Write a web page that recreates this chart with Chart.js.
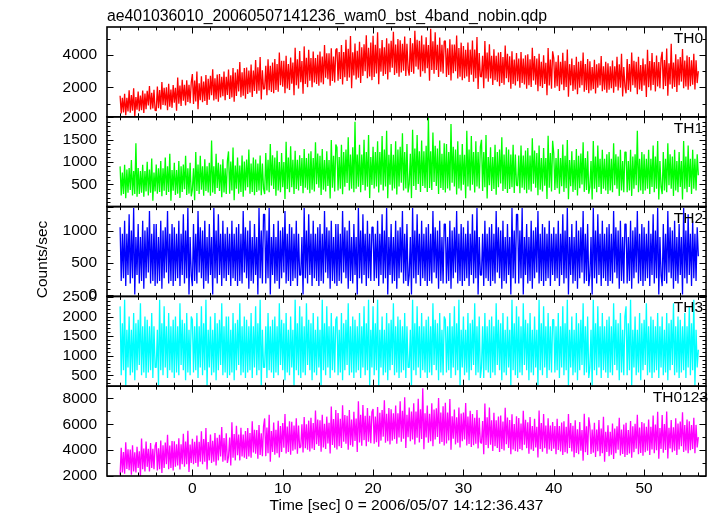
<!DOCTYPE html>
<html><head><meta charset="utf-8">
<script src="https://cdn.jsdelivr.net/npm/chart.js@4/dist/chart.umd.min.js"></script>
<style>html,body{margin:0;padding:0;background:#fff}#wrap{position:relative;width:717px;height:516px}canvas{display:block}</style>
</head><body><div id="wrap"><canvas id="c" width="717" height="516"></canvas></div>
<script>
const plotTitle = "ae401036010_20060507141236_wam0_bst_4band_nobin.qdp";
const xTitle = "Time [sec] 0 = 2006/05/07 14:12:36.437";
const yTitle = "Counts/sec";
const bandNames = ["TH0", "TH1", "TH2", "TH3", "TH0123"];
const bandColors = ["#ff0000", "#00ff00", "#0000ff", "#00ffff", "#ff00ff"];
const timeStart = -8, timeStep = 0.125;

const th0 = [
1490,410,1370,470,1610,290,1370,530,1830,450,1530,570,1950,210,1410,630,1750,550,1510,610,1810,430,1630,670,1790,890,2090,650,1670,710,1850,590,
580,2050,720,1840,650,2330,930,1980,890,2010,610,2220,820,1870,750,2150,1070,1980,580,2610,1000,2120,860,2470,1180,2160,900,2440,1110,2160,1040,2300,
2820,980,2420,1140,2980,660,2260,1220,2690,1090,2370,1170,2770,930,2530,1250,2720,1520,3120,1200,2560,1280,2800,1120,2820,1380,2660,1460,2980,1220,2660,1540,
3100,1300,2740,1390,3190,1120,2920,1480,3110,1760,3560,1400,2930,1490,3200,1310,3220,1600,3040,1690,3400,1420,3040,1780,3690,1620,3240,1800,3870,1260,3060,1890,
1930,3330,1530,3730,1830,3330,1730,3530,1640,3740,1840,3440,1740,4140,2140,3640,2040,3640,1640,3940,1940,3440,1840,3840,2230,3530,1530,4430,2130,3730,1930,4230,
2320,3620,1620,4520,2220,3820,2020,4320,2410,3810,2010,4210,2310,3810,2210,4010,2100,4200,2300,3900,2200,4600,2600,4100,2500,4100,2100,4400,2400,3900,2300,4300,
4390,2410,4170,2520,4610,2190,4170,2630,4930,2400,4380,2620,5150,1960,4160,2730,4690,2490,4250,2600,4800,2270,4470,2710,4650,3000,5200,2560,4430,2670,4760,2450,
5170,2640,4620,2860,5390,2200,4400,2970,4910,2710,4470,2820,5020,2490,4690,2930,4860,3210,5410,2770,4640,2880,4970,2660,4900,2920,4680,3030,5120,2700,4680,3140,
2730,5040,2950,4710,2840,5480,3280,4930,3100,4860,2660,5190,2990,4640,2880,5080,3180,4610,2410,5600,3070,4830,2850,5380,3080,4620,2640,5060,2970,4620,2860,4840,
4850,2650,4410,2760,4960,2430,4630,2870,4640,2990,5190,2550,4420,2660,4750,2440,4540,2560,4320,2670,4760,2340,4320,2780,4880,2350,4330,2570,5100,1910,4110,2680,
2650,3950,1950,4850,2550,4150,2350,4650,2550,3950,2150,4350,2450,3950,2350,4150,2070,4170,2270,3870,2170,4570,2570,4070,2320,3920,1920,4220,2220,3720,2120,4120,
2380,3780,1980,4180,2280,3780,2180,3980,1930,4030,2130,3730,2030,4430,2430,3930,2170,3770,1770,4070,2070,3570,1970,3970,2220,3520,1520,4420,2120,3720,1920,4220,
3780,1980,3580,2080,3980,1780,3580,2180,4130,1830,3630,2030,4330,1430,3430,2130,3780,1780,3380,1880,3880,1580,3580,1980,3640,2140,4140,1740,3440,1840,3740,1640,
3610,1810,3250,1900,3700,1630,3430,1990,3480,2130,3930,1770,3300,1860,3570,1680,3480,1860,3300,1950,3660,1680,3300,2040,3880,1810,3430,1990,4060,1450,3250,2080,
1640,3740,1840,3440,1740,4140,2140,3640,1980,3580,1580,3880,1880,3380,1780,3780,2120,3420,1420,4320,2020,3620,1820,4120,2160,3560,1760,3960,2060,3560,1960,3760,
4190,1890,3690,2090,4390,1490,3490,2190,4680,1930,3530,2030,4030,1730,3730,2130,3860,2360,4360,1960,3660,2060,3960,1860,3870,2070,3670,2170,4070,1870,3670,2270,
3000];

const th1 = [
900,250,760,280,935,190,830,310,865,370,1040,250,795,280,1420,220,865,280,795,310,935,220,795,340,1005,250,830,310,1075,130,760,340,
940,290,860,325,1020,230,860,355,1100,260,900,325,1180,130,820,355,980,260,820,290,1020,195,900,325,940,390,1140,260,860,290,980,230,
380,860,145,1220,350,940,280,1140,380,900,245,1060,350,900,315,980,245,1480,315,900,280,1180,415,980,350,940,210,1060,315,860,280,1020,
1235,290,1010,360,1325,145,920,400,1100,290,920,325,1145,220,1010,360,1055,435,1280,290,965,325,1100,255,1055,325,965,360,1145,255,965,400,
280,1200,360,1050,320,1400,470,1150,395,1100,245,1250,360,1000,320,1200,435,1000,170,1450,395,1100,320,1350,435,1050,280,1250,395,1050,360,1150,
460,1090,300,1290,420,1090,380,1190,300,1240,380,1090,340,1440,500,1190,420,1140,260,1290,380,1040,340,1240,460,1040,180,1490,420,1140,340,1390,
1330,360,1110,400,1385,275,1220,445,1275,530,1550,360,1165,400,1330,320,1900,400,1165,445,1385,320,1165,485,1495,360,1220,445,1605,190,1110,485,
1340,405,1220,450,1460,315,1220,490,1580,360,1280,450,1700,185,1160,490,1400,360,1160,405,1460,270,1280,450,1340,535,1640,360,1220,405,1400,315,
505,1180,190,1720,460,1300,370,1600,505,1240,325,1480,460,1240,415,1360,325,2000,415,1240,370,1660,550,1360,460,1300,280,1480,415,1180,370,1420,
315,1400,405,1220,360,1850,535,1340,450,1280,270,1460,405,1160,360,1400,490,1160,185,1700,450,1280,360,1580,490,1220,315,1460,450,1220,405,1340,
1495,350,1220,435,1605,180,1110,480,1330,350,1110,395,1385,265,1220,435,1275,520,1550,350,1165,395,1330,305,1275,395,1165,435,1385,305,1165,480,
465,1145,300,1365,425,1145,380,1255,300,1310,380,1145,340,1530,510,1255,425,1200,255,1365,380,1090,340,1310,465,1090,170,1585,425,1200,340,1475,
1190,370,1090,410,1290,290,1090,455,1390,330,1140,410,1490,165,1040,455,1240,330,1040,370,1290,250,1140,410,1190,495,1440,330,1090,370,1240,290,
440,1020,160,1470,400,1120,320,1370,440,1070,280,1270,400,1070,360,1170,280,1220,360,1070,320,1420,480,1170,400,1120,240,1270,360,1020,320,1220,
1220,320,1020,360,1270,240,1120,400,1170,480,1700,320,1070,360,1220,280,1170,360,1070,400,1270,280,1070,440,1370,320,1120,400,1470,160,1020,440,
280,1220,360,1070,320,1420,480,1170,400,1120,240,1270,360,1020,320,1220,440,1020,160,1470,400,1120,320,1370,440,1070,280,1270,400,1070,360,1170,
700];

const th2 = [
1050,220,950,260,1150,140,950,310,1250,180,1000,260,1350,10,900,310,1100,180,900,220,1150,100,1000,260,1050,350,1300,180,950,220,1100,140,
1100,180,900,220,1150,100,1000,260,1050,350,1300,180,950,220,1100,140,1050,220,950,260,1150,140,950,310,1250,180,1000,260,1350,10,900,310,
140,1100,220,950,180,1300,350,1050,260,1000,100,1150,220,900,180,1100,310,900,10,1350,260,1000,180,1250,310,950,140,1150,260,950,220,1050,
310,950,140,1150,260,950,220,1050,140,1100,220,950,180,1300,350,1050,260,1000,100,1150,220,900,180,1100,310,900,10,1350,260,1000,180,1250,
1250,180,1000,260,1350,10,900,310,1100,180,900,220,1150,100,1000,260,1050,350,1300,180,950,220,1100,140,1050,220,950,260,1150,140,950,310,
310,900,10,1350,260,1000,180,1250,310,950,140,1150,260,950,220,1050,140,1100,220,950,180,1300,350,1050,260,1000,100,1150,220,900,180,1100,
140,1100,220,950,180,1300,350,1050,260,1000,100,1150,220,900,180,1100,310,900,10,1350,260,1000,180,1250,310,950,140,1150,260,950,220,1050,
1050,220,950,260,1150,140,950,310,1250,180,1000,260,1350,10,900,310,1100,180,900,220,1150,100,1000,260,1050,350,1300,180,950,220,1100,140,
310,900,10,1350,260,1000,180,1250,310,950,140,1150,260,950,220,1050,140,1100,220,950,180,1300,350,1050,260,1000,100,1150,220,900,180,1100,
1100,180,900,220,1150,100,1000,260,1050,350,1300,180,950,220,1100,140,1050,220,950,260,1150,140,950,310,1250,180,1000,260,1350,10,900,310,
310,950,140,1150,260,950,220,1050,140,1100,220,950,180,1300,350,1050,260,1000,100,1150,220,900,180,1100,310,900,10,1350,260,1000,180,1250,
1250,180,1000,260,1350,10,900,310,1100,180,900,220,1150,100,1000,260,1050,350,1300,180,950,220,1100,140,1050,220,950,260,1150,140,950,310,
1050,220,950,260,1150,140,950,310,1250,180,1000,260,1350,10,900,310,1100,180,900,220,1150,100,1000,260,1050,350,1300,180,950,220,1100,140,
310,900,10,1350,260,1000,180,1250,310,950,140,1150,260,950,220,1050,140,1100,220,950,180,1300,350,1050,260,1000,100,1150,220,900,180,1100,
1100,180,900,220,1150,100,1000,260,1050,350,1300,180,950,220,1100,140,1050,220,950,260,1150,140,950,310,1250,180,1000,260,1350,10,900,310,
140,1100,220,950,180,1300,350,1050,260,1000,100,1150,220,900,180,1100,310,900,10,1350,260,1000,180,1250,310,950,140,1150,260,950,220,1050,
600];

const th3 = [
2260,500,1830,630,2430,240,1660,700,2000,500,1660,570,2090,370,1830,630,1920,760,2340,500,1750,570,2000,430,1920,570,1750,630,2090,430,1750,700,
700,1660,240,2430,630,1830,500,2260,700,1750,430,2090,630,1750,570,1920,430,2000,570,1750,500,2340,760,1920,630,1830,370,2090,570,1660,500,2000,
1920,570,1750,630,2090,430,1750,700,2260,500,1830,630,2430,240,1660,700,2000,500,1660,570,2090,370,1830,630,1920,760,2340,500,1750,570,2000,430,
2000,500,1660,570,2090,370,1830,630,1920,760,2340,500,1750,570,2000,430,1920,570,1750,630,2090,430,1750,700,2260,500,1830,630,2430,240,1660,700,
700,1750,430,2090,630,1750,570,1920,430,2000,570,1750,500,2340,760,1920,630,1830,370,2090,570,1660,500,2000,700,1660,240,2430,630,1830,500,2260,
430,2000,570,1750,500,2340,760,1920,630,1830,370,2090,570,1660,500,2000,700,1660,240,2430,630,1830,500,2260,700,1750,430,2090,630,1750,570,1920,
2000,500,1660,570,2090,370,1830,630,1920,760,2340,500,1750,570,2000,430,1920,570,1750,630,2090,430,1750,700,2260,500,1830,630,2430,240,1660,700,
2260,500,1830,630,2430,240,1660,700,2000,500,1660,570,2090,370,1830,630,1920,760,2340,500,1750,570,2000,430,1920,570,1750,630,2090,430,1750,700,
700,1660,240,2430,630,1830,500,2260,700,1750,430,2090,630,1750,570,1920,430,2000,570,1750,500,2340,760,1920,630,1830,370,2090,570,1660,500,2000,
1920,570,1750,630,2090,430,1750,700,2260,500,1830,630,2430,240,1660,700,2000,500,1660,570,2090,370,1830,630,1920,760,2340,500,1750,570,2000,430,
700,1750,430,2090,630,1750,570,1920,430,2000,570,1750,500,2340,760,1920,630,1830,370,2090,570,1660,500,2000,700,1660,240,2430,630,1830,500,2260,
430,2000,570,1750,500,2340,760,1920,630,1830,370,2090,570,1660,500,2000,700,1660,240,2430,630,1830,500,2260,700,1750,430,2090,630,1750,570,1920,
1920,570,1750,630,2090,430,1750,700,2260,500,1830,630,2430,240,1660,700,2000,500,1660,570,2090,370,1830,630,1920,760,2340,500,1750,570,2000,430,
700,1660,240,2430,630,1830,500,2260,700,1750,430,2090,630,1750,570,1920,430,2000,570,1750,500,2340,760,1920,630,1830,370,2090,570,1660,500,2000,
2260,500,1830,630,2430,240,1660,700,2000,500,1660,570,2090,370,1830,630,1920,760,2340,500,1750,570,2000,430,1920,570,1750,630,2090,430,1750,700,
2000,500,1660,570,2090,370,1830,630,1920,760,2340,500,1750,570,2000,430,1920,570,1750,630,2090,430,1750,700,2260,500,1830,630,2430,240,1660,700,
1150];

const th0123 = [
2080,4170,2260,3840,2170,4610,2530,4060,2440,4040,2080,4370,2350,3820,2260,4260,2610,3900,1980,4890,2520,4120,2340,4670,2700,4100,2340,4540,2610,4100,2520,4320,
4620,2420,4140,2520,4740,2220,4380,2620,4590,2910,5190,2510,4350,2610,4710,2410,4680,2700,4440,2800,4920,2500,4440,2900,5260,2700,4660,2900,5500,2300,4420,3000,
4880,2900,4640,3000,5120,2700,4640,3100,5460,2900,4860,3100,5700,2500,4620,3200,5200,3000,4720,3100,5320,2800,4960,3200,5180,3500,5780,3100,4940,3200,5300,3000,
3500,4980,2800,6150,3400,5240,3200,5890,3600,5210,3200,5730,3500,5210,3400,5470,3310,5710,3510,5320,3410,6230,3810,5580,3720,5560,3320,5950,3620,5300,3520,5820,
6450,3530,5750,3750,6730,3090,5470,3860,6140,3640,5580,3750,6280,3420,5860,3860,6100,4180,6800,3740,5820,3850,6240,3630,6190,3940,5910,4050,6470,3720,5910,4160,
4250,6000,3810,6560,4140,6000,4030,6280,3900,6510,4120,6090,4010,7070,4450,6370,4310,6310,3870,6730,4200,6030,4090,6590,4510,6120,3740,7380,4400,6400,4180,7100,
4050,6870,4290,6420,4170,7470,4650,6720,4500,6660,4020,7110,4380,6360,4260,6960,4700,6440,3860,7790,4580,6740,4340,7490,4770,6660,4290,7260,4650,6660,4530,6960,
7190,4490,6590,4610,7340,4250,6890,4730,7110,5040,7860,4560,6810,4680,7260,4440,7160,4730,6860,4850,7460,4490,6860,4970,7790,4640,7040,4880,8090,4160,6740,5000,
7300,4690,6980,4820,7620,4430,6980,4950,7970,4590,7170,4850,8790,4070,6850,4980,7460,4560,6820,4690,7620,4300,7140,4820,7230,5010,8030,4490,6910,4620,7390,4360,
7660,4510,6910,4750,7960,4030,6610,4870,7140,4440,6540,4560,7290,4200,6840,4680,6900,4830,7650,4350,6600,4470,7050,4230,6800,4370,6500,4490,7100,4130,6500,4610,
4510,6250,3670,7600,4390,6550,4150,7300,4410,6300,3930,6900,4290,6300,4170,6600,3850,6670,4090,6220,3970,7270,4450,6520,4160,6320,3680,6770,4040,6020,3920,6620,
3870,6480,4090,6060,3980,7040,4420,6340,4150,6150,3710,6570,4040,5870,3930,6430,4200,5810,3430,7070,4090,6090,3870,6790,4150,5900,3710,6460,4040,5900,3930,6180,
4110,5860,3670,6420,4000,5860,3890,6140,3620,6230,3840,5810,3730,6790,4170,6090,3890,5890,3450,6310,3780,5610,3670,6170,3950,5560,3180,6820,3840,5840,3620,6540,
5850,3690,5590,3800,6110,3470,5590,3910,6320,3530,5670,3750,6580,3090,5410,3860,5930,3530,5410,3640,6060,3310,5670,3750,5850,4020,6500,3580,5590,3690,5980,3470,
6120,3620,5560,3730,6260,3400,5840,3840,6030,4110,6730,3670,5750,3780,6170,3560,6080,3830,5800,3940,6360,3610,5800,4050,6680,3760,5980,3980,6960,3320,5700,4090,
6710,3790,6010,4010,6990,3350,5730,4120,6330,3830,5770,3940,6470,3610,6050,4050,6220,4300,6920,3860,5940,3970,6360,3750,6230,3980,5950,4090,6510,3760,5950,4200,
5000];

const series = [th0, th1, th2, th3, th0123];

const xRange = [-9.45, 56.85];
const xTicks = [0, 10, 20, 30, 40, 50];
const yRanges = [[200, 5710], [0, 2010], [-20, 1370], [220, 2515], [1990, 8950]];
const yTickLabels = [[2000, 4000], [500, 1000, 1500, 2000], [0, 500, 1000], [500, 1000, 1500, 2000, 2500], [2000, 4000, 6000, 8000]];
const yMajorStep = [2000, 500, 500, 500, 2000];
const yMinorStep = [1000, 100, 100, 100, 1000];
const xMajorStep = 10, xMinorStep = 2;

const FONT_FAMILY = '"Liberation Sans", Arial, Helvetica, sans-serif';
const tickFont = { family: FONT_FAMILY, size: 15.5 };
const yIds = series.map((_, k) => 'y' + k);

const datasets = series.map((vals, k) => ({
  label: bandNames[k],
  data: vals.map((v, i) => ({ x: timeStart + i * timeStep, y: v })),
  yAxisID: yIds[k],
  borderColor: bandColors[k],
  borderWidth: 1.3,
  borderJoinStyle: 'bevel',
  pointRadius: 0,
  tension: 0,
  fill: false
}));

const scales = {
  x: {
    type: 'linear', position: 'bottom', min: xRange[0], max: xRange[1],
    afterBuildTicks: s => { s.ticks = xTicks.map(v => ({ value: v })); },
    ticks: { font: tickFont, color: '#000', padding: 3, maxRotation: 0, autoSkip: false, callback: v => String(v) },
    grid: { display: false, drawTicks: false },
    border: { display: false },
    title: { display: true, text: xTitle, font: tickFont, color: '#000', padding: { top: 0, bottom: 1 } },
    afterFit: s => { s.height = 40; }
  }
};
yIds.forEach((id, k) => {
  scales[id] = {
    type: 'linear', position: 'left', stack: 'panels', stackWeight: 1, weight: 10 - k,
    min: yRanges[k][0], max: yRanges[k][1],
    afterBuildTicks: s => { s.ticks = yTickLabels[k].map(v => ({ value: v })); },
    ticks: { font: tickFont, color: '#000', padding: 10, autoSkip: false, callback: v => String(v) },
    grid: { display: false, drawTicks: false },
    border: { display: false },
    afterFit: s => { s.width = 107; }
  };
});

const framePlugin = {
  id: 'qdpFrame',
  beforeDatasetDraw(chart, args) {
    const ys = chart.scales[args.meta.yAxisID];
    const a = chart.chartArea, ctx = chart.ctx;
    ctx.save();
    ctx.beginPath();
    ctx.rect(a.left, ys.top, a.right - a.left, ys.bottom - ys.top);
    ctx.clip();
  },
  afterDatasetDraw(chart) { chart.ctx.restore(); },
  afterDraw(chart) {
    const ctx = chart.ctx, xs = chart.scales.x, a = chart.chartArea;
    ctx.save();
    ctx.strokeStyle = '#000';
    yIds.forEach((id, k) => {
      const ys = chart.scales[id];
      const t = ys.top, b = ys.bottom;
      ctx.lineWidth = 1;
      ctx.beginPath();
      for (let v = Math.ceil(xs.min / xMinorStep) * xMinorStep; v <= xs.max; v += xMinorStep) {
        const px = Math.round(xs.getPixelForValue(v)) + 0.5;
        const len = (Math.abs(v % xMajorStep) < 1e-9) ? 6.5 : 3.5;
        ctx.moveTo(px, t); ctx.lineTo(px, t + len);
        ctx.moveTo(px, b); ctx.lineTo(px, b - len);
      }
      const mn = yMinorStep[k], mj = yMajorStep[k];
      for (let v = Math.ceil(ys.min / mn) * mn; v <= ys.max; v += mn) {
        const py = Math.round(ys.getPixelForValue(v)) + 0.5;
        const len = (Math.abs(v % mj) < 1e-9) ? 6.5 : 3.5;
        ctx.moveTo(a.left, py); ctx.lineTo(a.left + len, py);
        ctx.moveTo(a.right, py); ctx.lineTo(a.right - len, py);
      }
      ctx.stroke();
      ctx.lineWidth = 1.6;
      ctx.strokeRect(a.left, t, a.right - a.left, b - t);
    });
    ctx.fillStyle = '#000';
    ctx.font = '15.5px ' + FONT_FAMILY;
    ctx.textAlign = 'right';
    ctx.textBaseline = 'alphabetic';
    yIds.forEach((id, k) => {
      const ys = chart.scales[id];
      ctx.fillText(bandNames[k], k === 4 ? a.right + 2 : a.right - 3, ys.top + 16);
    });
    ctx.font = '15.8px ' + FONT_FAMILY;
    ctx.textAlign = 'left';
    ctx.fillText(plotTitle, a.left, 21);
    ctx.save();
    ctx.translate(47, 259.5);
    ctx.rotate(-Math.PI / 2);
    ctx.font = '15.5px ' + FONT_FAMILY;
    ctx.textAlign = 'center';
    ctx.fillText(yTitle, 0, 0);
    ctx.restore();
    ctx.restore();
  }
};

new Chart(document.getElementById('c'), {
  type: 'line',
  data: { datasets },
  options: {
    responsive: false,
    animation: false,
    devicePixelRatio: 1,
    layout: { padding: { left: 0, top: 27, right: 11, bottom: 0 } },
    plugins: { legend: { display: false }, tooltip: { enabled: false }, title: { display: false } },
    scales
  },
  plugins: [framePlugin]
});
</script></body></html>
